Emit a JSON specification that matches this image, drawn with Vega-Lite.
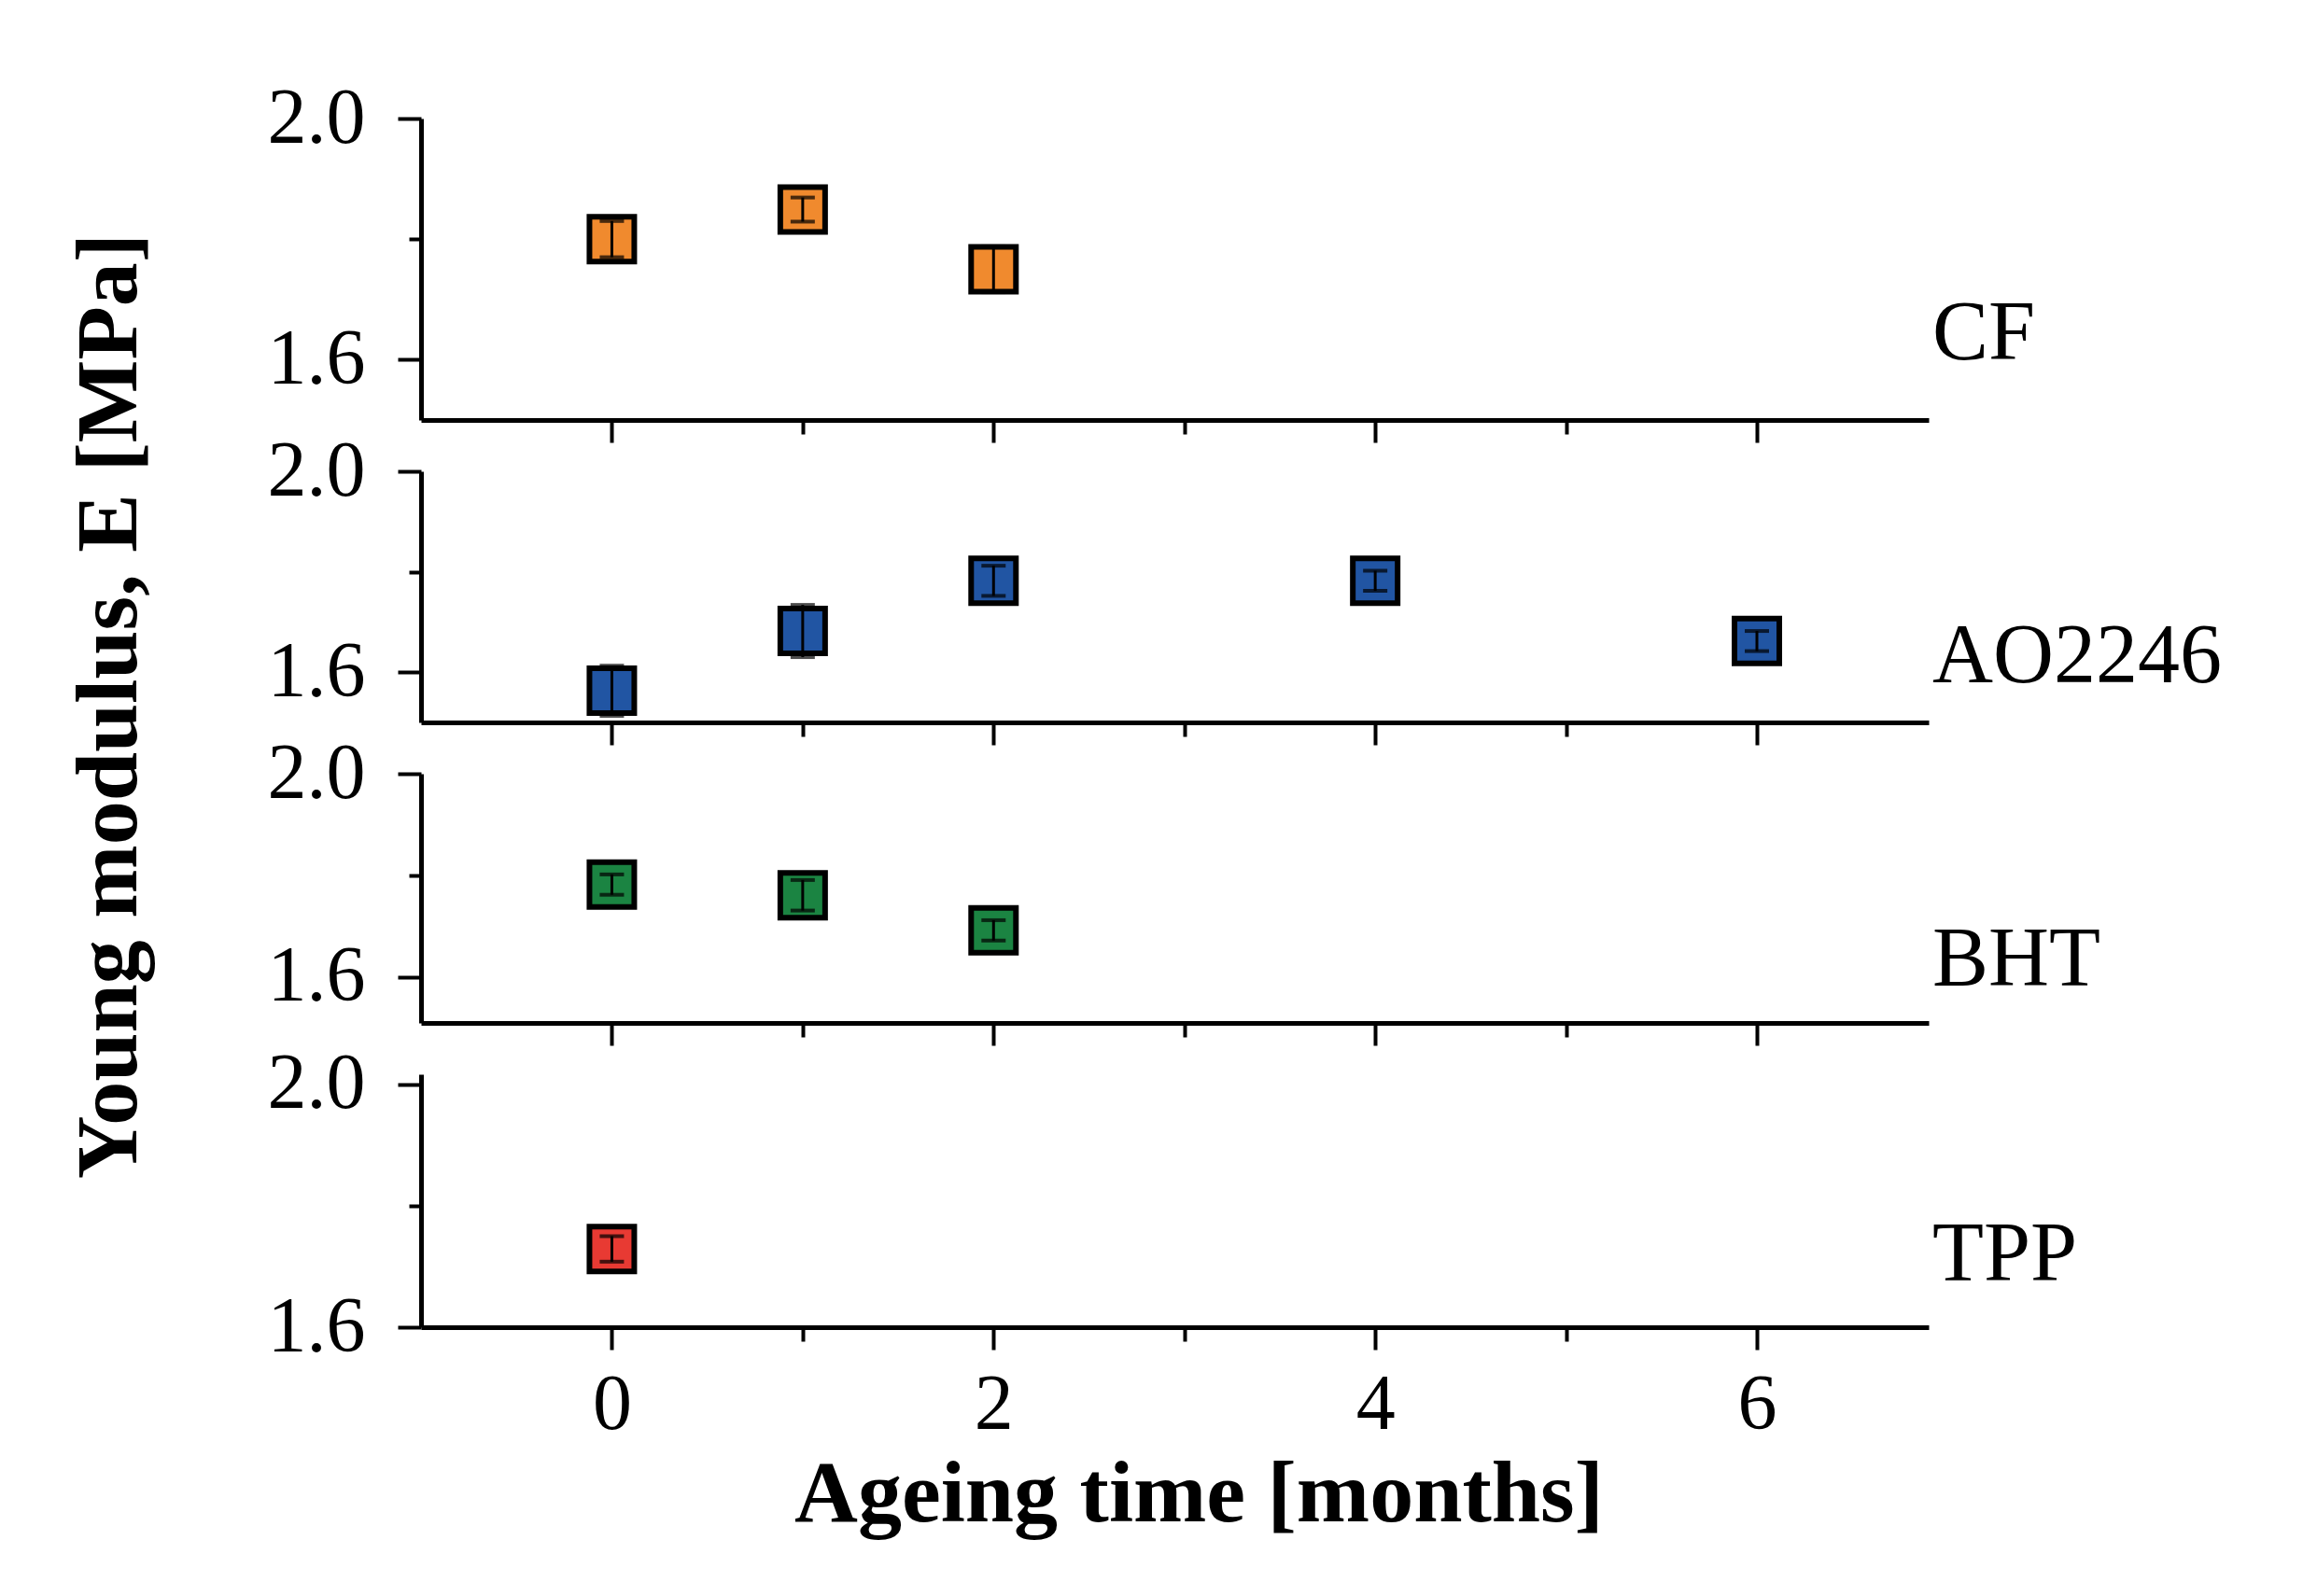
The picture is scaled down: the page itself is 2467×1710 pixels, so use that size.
{
  "$schema": "https://vega.github.io/schema/vega-lite/v6.json",
  "background": "white",
  "padding": {"left": 70, "top": 85, "right": 10, "bottom": 10},
  "title": {
    "text": "Young modulus, E [MPa]",
    "orient": "left",
    "anchor": "middle",
    "font": "Liberation Serif",
    "fontSize": 94,
    "fontWeight": "bold",
    "color": "black",
    "offset": 120,
    "dx": 110
  },
  "datasets": {
    "points": [
      {"panel": "CF", "t": 0, "E": 1.800, "err": 0.030},
      {"panel": "CF", "t": 1, "E": 1.849, "err": 0.020},
      {"panel": "CF", "t": 2, "E": 1.750, "err": 0.038},
      {"panel": "AO2246", "t": 0, "E": 1.563, "err": 0.050},
      {"panel": "AO2246", "t": 1, "E": 1.682, "err": 0.052},
      {"panel": "AO2246", "t": 2, "E": 1.782, "err": 0.030},
      {"panel": "AO2246", "t": 4, "E": 1.782, "err": 0.020},
      {"panel": "AO2246", "t": 6, "E": 1.662, "err": 0.020},
      {"panel": "BHT", "t": 0, "E": 1.782, "err": 0.020},
      {"panel": "BHT", "t": 1, "E": 1.761, "err": 0.030},
      {"panel": "BHT", "t": 2, "E": 1.692, "err": 0.020},
      {"panel": "TPP", "t": 0, "E": 1.729, "err": 0.021}
    ],
    "labels": [
      {"panel": "CF", "label": "CF"},
      {"panel": "AO2246", "label": "AO2246"},
      {"panel": "BHT", "label": "BHT"},
      {"panel": "TPP", "label": "TPP"}
    ]
  },
  "spacing": 55,
  "bounds": "flush",
  "vconcat": [
    {
      "width": 1615,
      "height": 323,
      "layer": [
        {
          "data": {"name": "points"},
          "transform": [{"filter": "datum.panel === 'CF'"}],
          "mark": {"type": "point", "shape": "square", "filled": true, "size": 2304, "stroke": "black", "strokeWidth": 6, "opacity": 1, "color": "#F08A2E"},
          "encoding": {
            "x": {"field": "t", "type": "quantitative", "scale": {"domain": [-1, 6.9], "nice": false, "zero": false},
              "axis": {"values": [0, 1, 2, 3, 4, 5, 6], "labels": false, "title": null,
                "tickSize": {"condition": {"test": "datum.value % 2 === 0", "value": 24}, "value": 15}}},
            "y": {"field": "E", "type": "quantitative", "scale": {"domain": [1.5, 2.0], "nice": false, "zero": false},
              "axis": {"values": [1.6, 1.8, 2.0], "format": ".1f", "title": null,
                "labelExpr": "abs(datum.value - 1.8) < 0.01 ? '' : datum.label",
                "tickSize": {"condition": {"test": "abs(datum.value - 1.8) < 0.01", "value": 13}, "value": 25}}}
          }
        },
        {
          "data": {"name": "points"},
          "transform": [{"filter": "datum.panel === 'CF'"}],
          "mark": {"type": "errorbar", "color": "black", "thickness": 3, "ticks": {"size": 26, "thickness": 4, "color": "black"}},
          "encoding": {
            "x": {"field": "t", "type": "quantitative"},
            "y": {"field": "E", "type": "quantitative"},
            "yError": {"field": "err"}
          }
        },
        {
          "data": {"name": "labels"},
          "transform": [{"filter": "datum.panel === 'CF'"}],
          "mark": {"type": "text", "align": "left", "baseline": "alphabetic", "dx": 4, "fontSize": 90, "font": "Liberation Serif", "color": "black"},
          "encoding": {"x": {"datum": 6.9}, "y": {"datum": 1.6}, "text": {"field": "label"}}
        }
      ]
    },
    {
      "width": 1615,
      "height": 269,
      "layer": [
        {
          "data": {"name": "points"},
          "transform": [{"filter": "datum.panel === 'AO2246'"}],
          "mark": {"type": "point", "shape": "square", "filled": true, "size": 2304, "stroke": "black", "strokeWidth": 6, "opacity": 1, "color": "#2155A3"},
          "encoding": {
            "x": {"field": "t", "type": "quantitative", "scale": {"domain": [-1, 6.9], "nice": false, "zero": false},
              "axis": {"values": [0, 1, 2, 3, 4, 5, 6], "labels": false, "title": null,
                "tickSize": {"condition": {"test": "datum.value % 2 === 0", "value": 24}, "value": 15}}},
            "y": {"field": "E", "type": "quantitative", "scale": {"domain": [1.5, 2.0], "nice": false, "zero": false},
              "axis": {"values": [1.6, 1.8, 2.0], "format": ".1f", "title": null,
                "labelExpr": "abs(datum.value - 1.8) < 0.01 ? '' : datum.label",
                "tickSize": {"condition": {"test": "abs(datum.value - 1.8) < 0.01", "value": 13}, "value": 25}}}
          }
        },
        {
          "data": {"name": "points"},
          "transform": [{"filter": "datum.panel === 'AO2246'"}],
          "mark": {"type": "errorbar", "color": "black", "thickness": 3, "ticks": {"size": 26, "thickness": 4, "color": "black"}},
          "encoding": {
            "x": {"field": "t", "type": "quantitative"},
            "y": {"field": "E", "type": "quantitative"},
            "yError": {"field": "err"}
          }
        },
        {
          "data": {"name": "labels"},
          "transform": [{"filter": "datum.panel === 'AO2246'"}],
          "mark": {"type": "text", "align": "left", "baseline": "alphabetic", "dx": 4, "fontSize": 90, "font": "Liberation Serif", "color": "black"},
          "encoding": {"x": {"datum": 6.9}, "y": {"datum": 1.58}, "text": {"field": "label"}}
        }
      ]
    },
    {
      "width": 1615,
      "height": 267,
      "layer": [
        {
          "data": {"name": "points"},
          "transform": [{"filter": "datum.panel === 'BHT'"}],
          "mark": {"type": "point", "shape": "square", "filled": true, "size": 2304, "stroke": "black", "strokeWidth": 6, "opacity": 1, "color": "#1B8442"},
          "encoding": {
            "x": {"field": "t", "type": "quantitative", "scale": {"domain": [-1, 6.9], "nice": false, "zero": false},
              "axis": {"values": [0, 1, 2, 3, 4, 5, 6], "labels": false, "title": null,
                "tickSize": {"condition": {"test": "datum.value % 2 === 0", "value": 24}, "value": 15}}},
            "y": {"field": "E", "type": "quantitative", "scale": {"domain": [1.51, 2.0], "nice": false, "zero": false},
              "axis": {"values": [1.6, 1.8, 2.0], "format": ".1f", "title": null,
                "labelExpr": "abs(datum.value - 1.8) < 0.01 ? '' : datum.label",
                "tickSize": {"condition": {"test": "abs(datum.value - 1.8) < 0.01", "value": 13}, "value": 25}}}
          }
        },
        {
          "data": {"name": "points"},
          "transform": [{"filter": "datum.panel === 'BHT'"}],
          "mark": {"type": "errorbar", "color": "black", "thickness": 3, "ticks": {"size": 26, "thickness": 4, "color": "black"}},
          "encoding": {
            "x": {"field": "t", "type": "quantitative"},
            "y": {"field": "E", "type": "quantitative"},
            "yError": {"field": "err"}
          }
        },
        {
          "data": {"name": "labels"},
          "transform": [{"filter": "datum.panel === 'BHT'"}],
          "mark": {"type": "text", "align": "left", "baseline": "alphabetic", "dx": 4, "fontSize": 90, "font": "Liberation Serif", "color": "black"},
          "encoding": {"x": {"datum": 6.9}, "y": {"datum": 1.583}, "text": {"field": "label"}}
        }
      ]
    },
    {
      "width": 1615,
      "height": 271,
      "layer": [
        {
          "data": {"name": "points"},
          "transform": [{"filter": "datum.panel === 'TPP'"}],
          "mark": {"type": "point", "shape": "square", "filled": true, "size": 2304, "stroke": "black", "strokeWidth": 6, "opacity": 1, "color": "#E83A33"},
          "encoding": {
            "x": {"field": "t", "type": "quantitative", "scale": {"domain": [-1, 6.9], "nice": false, "zero": false},
              "axis": {"values": [0, 1, 2, 3, 4, 5, 6], "format": "d", "title": "Ageing time [months]", "titleX": 833,
                "labelExpr": "datum.value % 2 === 0 ? datum.label : ''",
                "tickSize": {"condition": {"test": "datum.value % 2 === 0", "value": 24}, "value": 15}}},
            "y": {"field": "E", "type": "quantitative", "scale": {"domain": [1.6, 2.0169], "nice": false, "zero": false},
              "axis": {"values": [1.6, 1.8, 2.0], "format": ".1f", "title": null,
                "labelExpr": "abs(datum.value - 1.8) < 0.01 ? '' : datum.label",
                "tickSize": {"condition": {"test": "abs(datum.value - 1.8) < 0.01", "value": 13}, "value": 25}}}
          }
        },
        {
          "data": {"name": "points"},
          "transform": [{"filter": "datum.panel === 'TPP'"}],
          "mark": {"type": "errorbar", "color": "black", "thickness": 3, "ticks": {"size": 26, "thickness": 4, "color": "black"}},
          "encoding": {
            "x": {"field": "t", "type": "quantitative"},
            "y": {"field": "E", "type": "quantitative"},
            "yError": {"field": "err"}
          }
        },
        {
          "data": {"name": "labels"},
          "transform": [{"filter": "datum.panel === 'TPP'"}],
          "mark": {"type": "text", "align": "left", "baseline": "alphabetic", "dx": 4, "fontSize": 90, "font": "Liberation Serif", "color": "black"},
          "encoding": {"x": {"datum": 6.9}, "y": {"datum": 1.677}, "text": {"field": "label"}}
        }
      ]
    }
  ],
  "config": {
    "font": "Liberation Serif",
    "view": {"stroke": null},
    "axis": {
      "grid": false,
      "domainColor": "black",
      "domainWidth": 5,
      "tickColor": "black",
      "tickWidth": 4,
      "labelFont": "Liberation Serif",
      "labelFontSize": 84,
      "labelColor": "black",
      "labelFlush": false,
      "labelOverlap": false,
      "titleFont": "Liberation Serif",
      "titleFontSize": 94,
      "titleFontWeight": "bold",
      "titleColor": "black"
    },
    "axisX": {"labelPadding": 18, "titlePadding": 8},
    "axisY": {"labelPadding": 35}
  }
}
